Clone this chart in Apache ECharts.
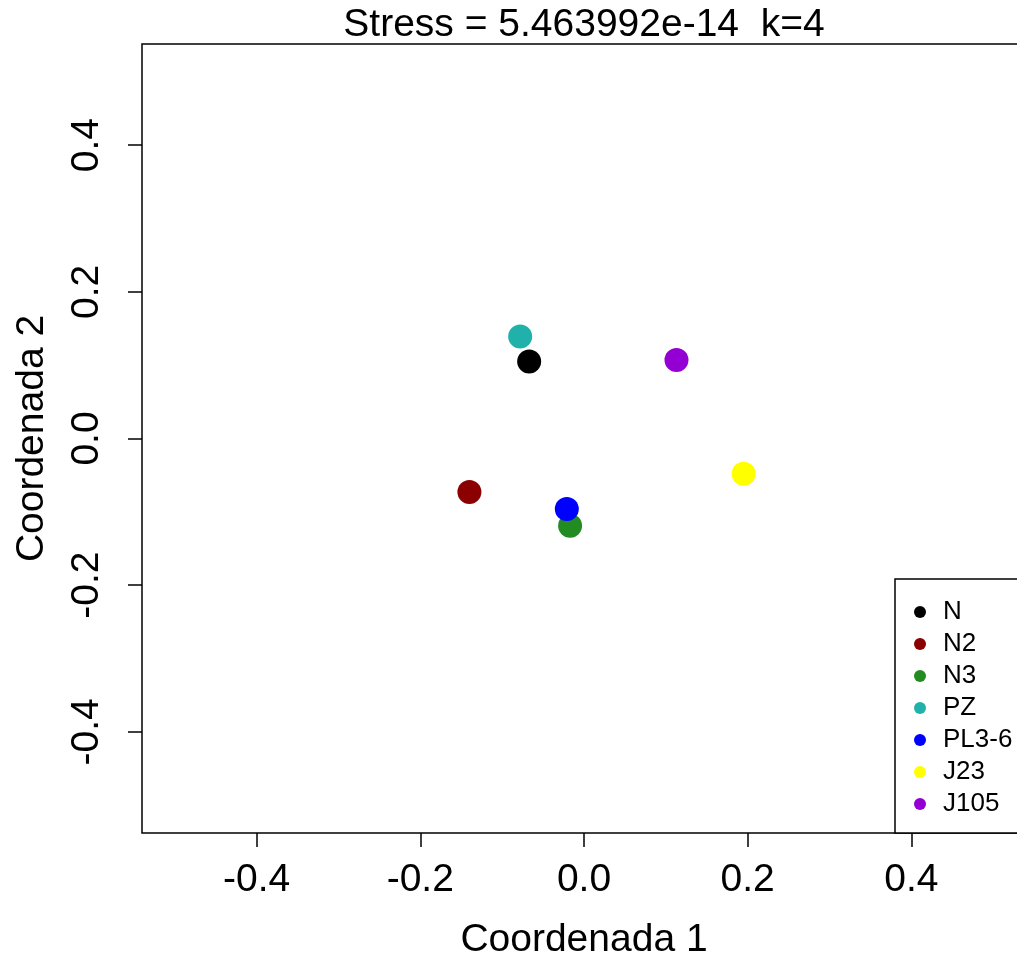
<!DOCTYPE html>
<html>
<head>
<meta charset="utf-8">
<script src="https://cdn.jsdelivr.net/npm/echarts@6/dist/echarts.min.js"></script>
<style>
  html, body { margin: 0; padding: 0; background: #fff; }
  #chart { width: 1017px; height: 961px; }
</style>
</head>
<body>
<div id="chart"></div>
<script>
// groups and their MDS coordinates
const groups = ["N", "N2", "N3", "PZ", "PL3-6", "J23", "J105"];
const coord1 = [-0.067, -0.140, -0.017, -0.078, -0.021, 0.195, 0.113];
const coord2 = [0.105, -0.073, -0.119, 0.139, -0.096, -0.048, 0.107];
const colors = ["#000000", "#8B0000", "#228B22", "#20B2AA", "#0000FF", "#FFFF00", "#9400D3"];
const ticks = [-0.4, -0.2, 0.0, 0.2, 0.4];

const font = "Liberation Sans, Arial, sans-serif";

const chart = echarts.init(document.getElementById("chart"));

const series = groups.map((g, i) => ({
    name: g,
    type: "scatter",
    symbol: "circle",
    symbolSize: 24,
    itemStyle: {color: colors[i], opacity: 1},
    data: [[coord1[i], coord2[i]]],
    z: 3 + i,
}));

chart.setOption({
    backgroundColor: "#fff",
    animation: false,
    graphic: [{
        type: "text",
        x: 584,
        y: 25,
        style: {
            text: "Stress = 5.463992e-14  k=4",
            font: "39px " + font,
            fill: "#000",
            textAlign: "center",
            textVerticalAlign: "middle",
        },
    }],
    grid: {
        left: 142,
        top: 44,
        width: 884,
        height: 789,
        outerBoundsMode: "none",
        containLabel: false,
        show: true,
        borderColor: "#000",
        borderWidth: 1.5,
        backgroundColor: "transparent",
    },
    xAxis: {
        type: "value",
        min: -0.54,
        max: 0.54,
        name: "Coordenada 1",
        nameLocation: "middle",
        nameGap: 88,
        nameTextStyle: {fontSize: 39, fontFamily: font, color: "#000"},
        axisLine: {show: false, onZero: false},
        axisTick: {show: true, customValues: ticks, length: 14, lineStyle: {color: "#000", width: 1.5}},
        axisLabel: {
            customValues: ticks,
            formatter: (v) => v.toFixed(1),
            fontSize: 39,
            fontFamily: font,
            color: "#000",
            margin: 28,
        },
        splitLine: {show: false},
    },
    yAxis: {
        type: "value",
        min: -0.538,
        max: 0.538,
        name: "Coordenada 2",
        nameLocation: "middle",
        nameRotate: 90,
        nameGap: 90,
        nameTextStyle: {fontSize: 39, fontFamily: font, color: "#000"},
        axisLine: {show: false, onZero: false},
        axisTick: {show: true, customValues: ticks, length: 14, lineStyle: {color: "#000", width: 1.5}},
        axisLabel: {
            customValues: ticks,
            formatter: (v) => v.toFixed(1),
            rotate: 90,
            fontSize: 39,
            fontFamily: font,
            color: "#000",
            margin: 35,
        },
        splitLine: {show: false},
    },
    legend: {
        orient: "vertical",
        left: 895,
        top: 579,
        data: groups,
        icon: "circle",
        itemWidth: 12,
        itemHeight: 12,
        itemGap: 6,
        padding: [20, 30, 16, 19],
        borderColor: "#000",
        borderWidth: 1.5,
        borderRadius: 0,
        backgroundColor: "#fff",
        selectedMode: false,
        textStyle: {fontSize: 26, fontFamily: font, color: "#000", padding: [0, 0, 0, 12], lineHeight: 26},
        z: 10,
    },
    series,
});
</script>
</body>
</html>
